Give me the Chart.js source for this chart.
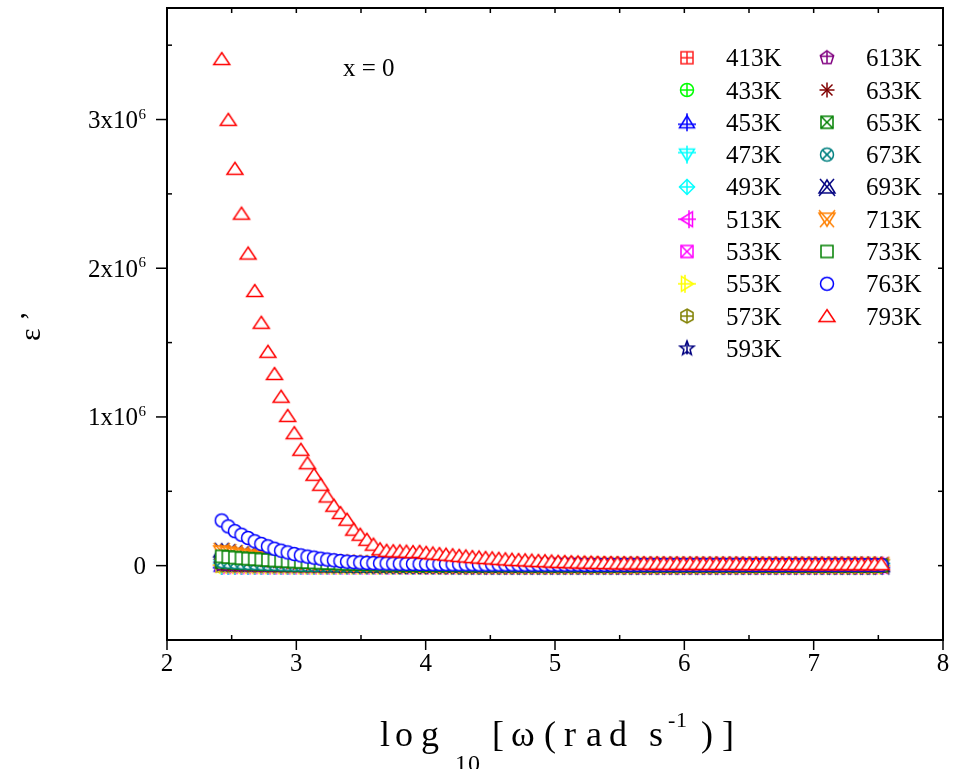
<!DOCTYPE html>
<html>
<head>
<meta charset="utf-8">
<script src="https://cdn.jsdelivr.net/npm/chart.js@4.4.0/dist/chart.umd.min.js"></script>
<style>
html, body { margin: 0; padding: 0; background: #fff; }
#wrap { width: 955px; height: 769px; }
</style>
</head>
<body>
<div id="wrap"><canvas id="epsChart" width="955" height="769"></canvas></div>
<script>
// log10 of angular frequency (x axis)
const logW = [
  2.423, 2.474, 2.525, 2.576, 2.627, 2.678, 2.729, 2.780, 2.831, 2.882, 2.933, 2.984, 3.035, 3.086, 3.137, 3.188, 3.239, 3.290, 3.341, 3.392,
  3.443, 3.494, 3.545, 3.596, 3.647, 3.698, 3.749, 3.800, 3.851, 3.902, 3.953, 4.004, 4.055, 4.106, 4.157, 4.208, 4.259, 4.310, 4.361, 4.412,
  4.463, 4.514, 4.565, 4.616, 4.667, 4.718, 4.769, 4.820, 4.871, 4.922, 4.973, 5.024, 5.075, 5.126, 5.177, 5.228, 5.279, 5.330, 5.381, 5.432,
  5.483, 5.534, 5.585, 5.636, 5.687, 5.738, 5.789, 5.840, 5.891, 5.942, 5.993, 6.044, 6.095, 6.146, 6.197, 6.248, 6.299, 6.350, 6.401, 6.452,
  6.503, 6.554, 6.605, 6.656, 6.707, 6.758, 6.809, 6.860, 6.911, 6.962, 7.013, 7.064, 7.115, 7.166, 7.217, 7.268, 7.319, 7.370, 7.421, 7.472,
  7.523
];

// ε' values, in units of 10^3
const e413 = [
  0,0,0,0,0,0,0,0,0,0, 0,0,0,0,0,0,0,0,0,0,
  0,0,0,0,0,0,0,0,0,0, 0,0,0,0,0,0,0,0,0,0,
  0,0,0,0,0,0,0,0,0,0, 0,0,0,0,0,0,0,0,0,0,
  0,0,0,0,0,0,0,0,0,0, 0,0,0,0,0,0,0,0,0,0,
  0,0,0,0,0,0,0,0,0,0, 0,0,0,0,0,0,0,0,0,0,
  0
];
const e433 = [
  0,0,0,0,0,0,0,0,0,0, 0,0,0,0,0,0,0,0,0,0,
  0,0,0,0,0,0,0,0,0,0, 0,0,0,0,0,0,0,0,0,0,
  0,0,0,0,0,0,0,0,0,0, 0,0,0,0,0,0,0,0,0,0,
  0,0,0,0,0,0,0,0,0,0, 0,0,0,0,0,0,0,0,0,0,
  0,0,0,0,0,0,0,0,0,0, 0,0,0,0,0,0,0,0,0,0,
  0
];
const e453 = [
  0,0,0,0,0,0,0,0,0,0, 0,0,0,0,0,0,0,0,0,0,
  0,0,0,0,0,0,0,0,0,0, 0,0,0,0,0,0,0,0,0,0,
  0,0,0,0,0,0,0,0,0,0, 0,0,0,0,0,0,0,0,0,0,
  0,0,0,0,0,0,0,0,0,0, 0,0,0,0,0,0,0,0,0,0,
  0,0,0,0,0,0,0,0,0,0, 0,0,0,0,0,0,0,0,0,0,
  0
];
const e473 = [
  0,0,0,0,0,0,0,0,0,0, 0,0,0,0,0,0,0,0,0,0,
  0,0,0,0,0,0,0,0,0,0, 0,0,0,0,0,0,0,0,0,0,
  0,0,0,0,0,0,0,0,0,0, 0,0,0,0,0,0,0,0,0,0,
  0,0,0,0,0,0,0,0,0,0, 0,0,0,0,0,0,0,0,0,0,
  0,0,0,0,0,0,0,0,0,0, 0,0,0,0,0,0,0,0,0,0,
  0
];
const e493 = [
  1,1,1,1,1,0,0,0,0,0, 0,0,0,0,0,0,0,0,0,0,
  0,0,0,0,0,0,0,0,0,0, 0,0,0,0,0,0,0,0,0,0,
  0,0,0,0,0,0,0,0,0,0, 0,0,0,0,0,0,0,0,0,0,
  0,0,0,0,0,0,0,0,0,0, 0,0,0,0,0,0,0,0,0,0,
  0,0,0,0,0,0,0,0,0,0, 0,0,0,0,0,0,0,0,0,0,
  0
];
const e513 = [
  2,2,2,1,1,1,1,0,0,0, 0,0,0,0,0,0,0,0,0,0,
  0,0,0,0,0,0,0,0,0,0, 0,0,0,0,0,0,0,0,0,0,
  0,0,0,0,0,0,0,0,0,0, 0,0,0,0,0,0,0,0,0,0,
  0,0,0,0,0,0,0,0,0,0, 0,0,0,0,0,0,0,0,0,0,
  0,0,0,0,0,0,0,0,0,0, 0,0,0,0,0,0,0,0,0,0,
  0
];
const e533 = [
  3,3,2,2,2,2,1,1,1,1, 0,0,0,0,0,0,0,0,0,0,
  0,0,0,0,0,0,0,0,0,0, 0,0,0,0,0,0,0,0,0,0,
  0,0,0,0,0,0,0,0,0,0, 0,0,0,0,0,0,0,0,0,0,
  0,0,0,0,0,0,0,0,0,0, 0,0,0,0,0,0,0,0,0,0,
  0,0,0,0,0,0,0,0,0,0, 0,0,0,0,0,0,0,0,0,0,
  0
];
const e553 = [
  4,4,3,3,3,2,2,2,2,1, 1,1,1,0,0,0,0,0,0,0,
  0,0,0,0,0,0,0,0,0,0, 0,0,0,0,0,0,0,0,0,0,
  0,0,0,0,0,0,0,0,0,0, 0,0,0,0,0,0,0,0,0,0,
  0,0,0,0,0,0,0,0,0,0, 0,0,0,0,0,0,0,0,0,0,
  0,0,0,0,0,0,0,0,0,0, 0,0,0,0,0,0,0,0,0,0,
  0
];
const e573 = [
  6,5,5,4,4,3,3,3,2,2, 2,2,1,1,1,1,0,0,0,0,
  0,0,0,0,0,0,0,0,0,0, 0,0,0,0,0,0,0,0,0,0,
  0,0,0,0,0,0,0,0,0,0, 0,0,0,0,0,0,0,0,0,0,
  0,0,0,0,0,0,0,0,0,0, 0,0,0,0,0,0,0,0,0,0,
  0,0,0,0,0,0,0,0,0,0, 0,0,0,0,0,0,0,0,0,0,
  0
];
const e593 = [
  8,7,6,6,5,5,4,4,3,3, 3,2,2,2,2,1,1,1,1,1,
  0,0,0,0,0,0,0,0,0,0, 0,0,0,0,0,0,0,0,0,0,
  0,0,0,0,0,0,0,0,0,0, 0,0,0,0,0,0,0,0,0,0,
  0,0,0,0,0,0,0,0,0,0, 0,0,0,0,0,0,0,0,0,0,
  0,0,0,0,0,0,0,0,0,0, 0,0,0,0,0,0,0,0,0,0,
  0
];
const e613 = [
  12,11,10,9,8,7,6,6,5,5, 4,4,3,3,3,2,2,2,2,1,
  1,1,1,1,1,1,1,1,1,1, 0,0,0,0,0,0,0,0,0,0,
  0,0,0,0,0,0,0,0,0,0, 0,0,0,0,0,0,0,0,0,0,
  0,0,0,0,0,0,0,0,0,0, 0,0,0,0,0,0,0,0,0,0,
  0,0,0,0,0,0,0,0,0,0, 0,0,0,0,0,0,0,0,0,0,
  0
];
const e633 = [
  18,16,14,12,11,10,9,8,7,6, 5,5,4,4,3,3,3,2,2,2,
  1,1,1,1,1,1,1,1,1,1, 0,0,0,0,0,0,0,0,0,0,
  0,0,0,0,0,0,0,0,0,0, 0,0,0,0,0,0,0,0,0,0,
  0,0,0,0,0,0,0,0,0,0, 0,0,0,0,0,0,0,0,0,0,
  0,0,0,0,0,0,0,0,0,0, 0,0,0,0,0,0,0,0,0,0,
  0
];
const e653 = [
  25,22,20,18,16,14,12,11,10,9, 8,7,6,5,5,4,4,3,3,3,
  2,2,2,2,1,1,1,1,1,1, 0,0,0,0,0,0,0,0,0,0,
  0,0,0,0,0,0,0,0,0,0, 0,0,0,0,0,0,0,0,0,0,
  0,0,0,0,0,0,0,0,0,0, 0,0,0,0,0,0,0,0,0,0,
  0,0,0,0,0,0,0,0,0,0, 0,0,0,0,0,0,0,0,0,0,
  0
];
const e673 = [
  30,27,24,21,19,17,15,13,12,10, 9,8,7,6,5,5,4,4,3,3,
  3,2,2,2,2,2,1,1,1,1, 1,1,0,0,0,0,0,0,0,0,
  0,0,0,0,0,0,0,0,0,0, 0,0,0,0,0,0,0,0,0,0,
  0,0,0,0,0,0,0,0,0,0, 0,0,0,0,0,0,0,0,0,0,
  0,0,0,0,0,0,0,0,0,0, 0,0,0,0,0,0,0,0,0,0,
  0
];
const e693 = [
  100,91,83,76,69,63,58,53,48,44, 40,36,33,30,27,24,22,20,18,16,
  14,13,12,11,10,9,8,7,6,6, 5,5,4,4,4,3,3,3,3,2,
  2,2,2,2,2,2,2,2,2,2, 2,2,2,2,2,2,2,2,2,2,
  1,1,1,1,1,1,1,1,1,1, 1,1,1,1,1,1,1,1,1,1,
  1,1,1,1,1,1,1,1,1,1, 1,1,1,1,1,1,1,1,1,1,
  1
];
const e713 = [
  92,84,77,70,64,58,53,48,44,40, 36,33,30,27,24,22,20,18,16,14,
  13,12,11,10,9,8,7,6,5,5, 4,4,3,3,3,3,2,2,2,2,
  1,1,1,1,1,1,1,1,1,1, 1,1,1,1,1,1,1,1,1,1,
  0,0,0,0,0,0,0,0,0,0, 0,0,0,0,0,0,0,0,0,0,
  0,0,0,0,0,0,0,0,0,0, 0,0,0,0,0,0,0,0,0,0,
  0
];
const e733 = [
  62,58,54,50,47,44,41,38,35,33, 30,28,26,24,22,20,18,17,15,14,
  13,12,11,10,9,8,7,7,6,6, 5,5,5,4,4,4,4,3,3,3,
  3,3,3,3,3,2,2,2,2,2, 2,2,2,2,2,2,2,2,2,2,
  2,2,2,2,2,2,2,2,2,2, 2,2,2,2,2,2,2,2,2,2,
  1,1,1,1,1,1,1,1,1,1, 1,1,1,1,1,1,1,1,1,1,
  1
];
const e763 = [
  304,264,232,208,186,164,146,130,114,101, 89,78,69,61,54,47,41,36,31,27,
  24,21,19,17,16,15,14,13,12,12, 11,11,10,10,10,9,9,9,9,8,
  8,8,8,8,8,7,7,7,7,7, 7,7,7,7,7,6,6,6,6,6,
  6,6,6,6,6,6,6,6,6,6, 6,6,6,6,6,6,6,6,6,6,
  5,5,5,5,5,5,5,5,5,5, 5,5,5,5,5,5,5,5,5,5,
  5
];
const e793 = [
  3407,2998,2669,2367,2099,1847,1633,1438,1289,1136, 1007,891,779,689,611,544,465,403,354,309,
  242,208,174,141,110,100,97,96,94,91, 93,86,82,78,74,70,66,62,58,55,
  52,49,46,43,40,38,36,34,32,30, 28,26,25,23,22,21,20,19,18,17,
  16,16,15,15,15,14,14,14,13,13, 13,13,13,12,12,12,12,12,12,11,
  11,11,11,11,11,11,11,11,10,10, 10,10,10,10,10,10,10,10,10,10,
  10
];

const seriesNames = ['413K', '433K', '453K', '473K', '493K', '513K', '533K', '553K', '573K', '593K',
  '613K', '633K', '653K', '673K', '693K', '713K', '733K', '763K', '793K'];
const seriesValues = [e413, e433, e453, e473, e493, e513, e533, e553, e573, e593,
  e613, e633, e653, e673, e693, e713, e733, e763, e793];

// tick labels
const xTicks = [2, 3, 4, 5, 6, 7, 8];
const yTicks = [0, 1, 2, 3]; // x10^6

// marker look per series
const markerStyle = [
  ['sqPlus', '#ff2020'], ['circPlus', '#00ff00'], ['triUpPlus', '#0000ff'], ['triDownPlus', '#00ffff'],
  ['diamondPlus', '#00ffff'], ['triLeftPlus', '#ff00ff'], ['sqX', '#ff00ff'], ['triRightPlus', '#ffff00'],
  ['hexPlus', '#808000'], ['star', '#000080'], ['pentPlus', '#800080'], ['asterisk', '#800000'],
  ['sqX', '#008000'], ['circX', '#008080'], ['triUpX', '#000080'], ['triDownX', '#ff8000'],
  ['square', '#008000'], ['circle', '#0000ff'], ['triUp', '#ff0000']
];

// üé® Draw a marker into a small canvas, used as Chart.js pointStyle
function makeMarker(shape, color) {
  const cv = document.createElement('canvas');
  cv.width = 22; cv.height = 22;
  const g = cv.getContext('2d');
  const c = 11;
  g.strokeStyle = color;
  g.fillStyle = '#fff';
  g.lineWidth = 1.5;
  g.lineJoin = 'miter';
  const poly = (pts) => {
    g.beginPath();
    pts.forEach((p, i) => i ? g.lineTo(c + p[0], c + p[1]) : g.moveTo(c + p[0], c + p[1]));
    g.closePath(); g.fill(); g.stroke();
  };
  const ring = (r) => { g.beginPath(); g.arc(c, c, r, 0, 2 * Math.PI); g.fill(); g.stroke(); };
  const line = (x1, y1, x2, y2) => {
    g.beginPath(); g.moveTo(c + x1, c + y1); g.lineTo(c + x2, c + y2); g.stroke();
  };
  const ngon = (n, r, rot) => {
    const pts = [];
    for (let k = 0; k < n; k++) {
      const a = rot + k * 2 * Math.PI / n;
      pts.push([r * Math.cos(a), r * Math.sin(a)]);
    }
    poly(pts);
  };
  switch (shape) {
    case 'square': poly([[-6, -6], [6, -6], [6, 6], [-6, 6]]); break;
    case 'sqPlus': poly([[-6, -6], [6, -6], [6, 6], [-6, 6]]); line(0, -6, 0, 6); line(-6, 0, 6, 0); break;
    case 'sqX': poly([[-6, -6], [6, -6], [6, 6], [-6, 6]]); line(-6, -6, 6, 6); line(6, -6, -6, 6); break;
    case 'circle': ring(6.5); break;
    case 'circPlus': ring(6.5); line(0, -6.5, 0, 6.5); line(-6.5, 0, 6.5, 0); break;
    case 'circX': ring(6.5); line(-4.6, -4.6, 4.6, 4.6); line(4.6, -4.6, -4.6, 4.6); break;
    case 'triUp': poly([[0, -6.5], [8, 5.5], [-8, 5.5]]); break;
    case 'triUpPlus': poly([[0, -6.5], [7.5, 5.5], [-7.5, 5.5]]); line(0, -9, 0, 9); line(-9, 2, 9, 2); break;
    case 'triDownPlus': poly([[0, 6.5], [7.5, -5.5], [-7.5, -5.5]]); line(0, -9, 0, 9); line(-9, -2, 9, -2); break;
    case 'triLeftPlus': poly([[-6.5, 0], [5.5, 7.5], [5.5, -7.5]]); line(-9, 0, 9, 0); line(2, -9, 2, 9); break;
    case 'triRightPlus': poly([[6.5, 0], [-5.5, 7.5], [-5.5, -7.5]]); line(-9, 0, 9, 0); line(-2, -9, -2, 9); break;
    case 'diamondPlus': poly([[0, -7.5], [7.5, 0], [0, 7.5], [-7.5, 0]]); line(0, -7.5, 0, 7.5); line(-7.5, 0, 7.5, 0); break;
    case 'hexPlus': ngon(6, 7, -Math.PI / 2); line(0, -7, 0, 7); line(-6, 0, 6, 0); break;
    case 'pentPlus': ngon(5, 7, -Math.PI / 2); line(0, -7, 0, 5.7); line(-6.6, -1.5, 6.6, -1.5); break;
    case 'star': {
      const pts = [];
      for (let k = 0; k < 10; k++) {
        const r = k % 2 ? 3.2 : 7.5, a = -Math.PI / 2 + k * Math.PI / 5;
        pts.push([r * Math.cos(a), r * Math.sin(a)]);
      }
      poly(pts); line(0, -7.5, 0, 6); break;
    }
    case 'asterisk': line(0, -7.5, 0, 7.5); line(-7.5, 0, 7.5, 0); line(-5.5, -5.5, 5.5, 5.5); line(5.5, -5.5, -5.5, 5.5); break;
    case 'triUpX': poly([[0, -7], [8, 6], [-8, 6]]); line(-7, -8, 8, 9); line(7, -8, -8, 9); break;
    case 'triDownX': poly([[0, 7], [8, -6], [-8, -6]]); line(-8, -9, 7, 8); line(8, -9, -7, 8); break;
  }
  return cv;
}

const markers = markerStyle.map(m => makeMarker(m[0], m[1]));

// üìä Build datasets from the arrays above
const datasets = seriesNames.map((name, i) => ({
  label: name,
  data: seriesValues[i].map((v, k) => ({ x: logW[k], y: v * 1000 })),
  pointStyle: markers[i],
  pointRadius: 7,
  showLine: false,
  order: -i
}));

const F = "'Liberation Serif', 'Times New Roman', serif";

// üñäÔ∏è Frame, ticks, labels, titles and legend
const decorPlugin = {
  id: 'decor',
  afterDraw(chart) {
    const ctx = chart.ctx, a = chart.chartArea;
    const xs = chart.scales.x, ys = chart.scales.y;
    ctx.save();
    ctx.strokeStyle = '#000';
    ctx.fillStyle = '#000';
    ctx.lineWidth = 2;
    ctx.strokeRect(a.left, a.top, a.right - a.left, a.bottom - a.top);

    const seg = (x1, y1, x2, y2) => { ctx.beginPath(); ctx.moveTo(x1, y1); ctx.lineTo(x2, y2); ctx.stroke(); };

    // x ticks
    ctx.lineWidth = 1.5;
    for (let v = 2; v <= 8; v += 0.5) {
      const px = xs.getPixelForValue(v);
      if (Number.isInteger(v)) seg(px, a.bottom, px, a.bottom + 10);
      else seg(px, a.bottom, px, a.bottom - 5);
      seg(px, a.top, px, a.top + 5);
    }
    // y ticks
    for (let v = -0.5; v <= 3.5; v += 0.5) {
      const py = ys.getPixelForValue(v * 1e6);
      if (Number.isInteger(v)) seg(a.left - 11, py, a.left, py);
      else seg(a.left, py, a.left + 5, py);
      seg(a.right, py, a.right - 5, py);
    }

    // x tick labels
    ctx.font = '25px ' + F;
    ctx.textAlign = 'center';
    ctx.textBaseline = 'alphabetic';
    xTicks.forEach(v => ctx.fillText(String(v), xs.getPixelForValue(v), a.bottom + 31));

    // y tick labels with superscript
    ctx.textAlign = 'right';
    yTicks.forEach(v => {
      const py = ys.getPixelForValue(v * 1e6);
      const right = a.left - 21;
      if (v === 0) {
        ctx.font = '25px ' + F;
        ctx.fillText('0', right, py + 8.5);
      } else {
        ctx.font = '15px ' + F;
        const sw = ctx.measureText('6').width;
        ctx.fillText('6', right, py - 1);
        ctx.font = '25px ' + F;
        ctx.fillText(v + 'x10', right - sw - 0.5, py + 8.5);
      }
    });

    // x axis title
    ctx.textAlign = 'left';
    const xTitle = [
      ['l', 380, 746, 36], ['o', 395, 746, 36], ['g', 421, 746, 36],
      ['1', 455, 771, 24], ['0', 468, 771, 24],
      ['[', 492, 746, 36], ['\u03c9', 511, 746, 36], ['(', 544, 746, 36],
      ['r', 564, 746, 36], ['a', 586, 746, 36], ['d', 609, 746, 36], ['s', 649, 746, 36],
      ['-', 668, 727, 22], ['1', 676, 727, 22], [')', 701, 746, 36], [']', 722, 746, 36]
    ];
    xTitle.forEach(t => { ctx.font = t[3] + 'px ' + F; ctx.fillText(t[0], t[1], t[2]); });

    // y axis title
    ctx.save();
    ctx.translate(40, 326);
    ctx.rotate(-Math.PI / 2);
    ctx.font = '30px ' + F;
    ctx.textAlign = 'center';
    ctx.fillText('\u03b5 \u2019', 0, 0);
    ctx.restore();

    // annotation
    ctx.font = '25px ' + F;
    ctx.fillText('x = 0', 343, 76);

    // legend
    seriesNames.forEach((name, i) => {
      const col = i < 10 ? 0 : 1, row = i < 10 ? i : i - 10;
      const cy = 57.7 + row * 32.3;
      const mx = col ? 827 : 687;
      ctx.drawImage(markers[i], mx - 11, cy - 11);
      ctx.font = '25px ' + F;
      ctx.fillText(name, col ? 866 : 726, cy + 8.5);
    });
    ctx.restore();
  }
};

// üìà Chart
const ctx = document.getElementById('epsChart').getContext('2d');
const epsChart = new Chart(ctx, {
  type: 'scatter',
  data: { datasets },
  options: {
    responsive: false,
    animation: false,
    layout: { padding: { left: 167, top: 8, right: 12, bottom: 129 } },
    plugins: { legend: { display: false }, tooltip: { enabled: false } },
    scales: {
      x: { type: 'linear', min: 2, max: 8, display: false },
      y: { type: 'linear', min: -500000, max: 3750000, display: false }
    }
  },
  plugins: [decorPlugin]
});
</script>
</body>
</html>
